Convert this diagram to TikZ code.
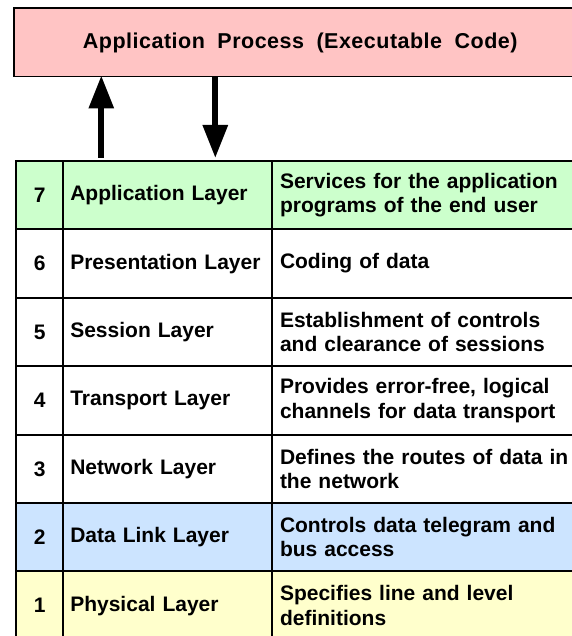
\documentclass[tikz,border=0pt]{standalone}
\usepackage{fontspec}
\setmainfont{Liberation Sans}
\usetikzlibrary{arrows.meta}

\definecolor{procpink}{RGB}{255,196,196}
\definecolor{layergreen}{RGB}{204,255,204}
\definecolor{layerblue}{RGB}{204,228,255}
\definecolor{layeryellow}{RGB}{255,255,204}

% heading font: slightly tracked, with wider gaps between words
\newcommand\procfont{\bfseries\fontsize{21.5}{24}\selectfont
  \addfontfeature{LetterSpace=2.3}\spaceskip=12.5pt\relax}

% one row of the layer table: number, top edge, name, description, fill
\newcommand\osirow[5]{%
  \node[numcell, fill=#5] (num#1) at (15,#2) {#1};
  \node[namecell, fill=#5] (name#1) at (62.3,#2) {#3};
  \node[desccell, fill=#5] (desc#1) at (271.3,#2) {#4};
}

\begin{document}
\begin{tikzpicture}[x=1pt, y=-1pt,
  cellfont/.style={font=\bfseries\fontsize{21}{24.5}\selectfont},
  frame/.style={draw=black, line width=2pt, inner sep=0pt, anchor=north west,
    minimum height=68.4pt, cellfont},
  numcell/.style={frame, minimum width=47.3pt, align=center},
  namecell/.style={frame, minimum width=209pt, text width=195pt, align=left},
  desccell/.style={frame, minimum width=316pt, text width=300.6pt, align=left},
  bigarrow/.style={line width=6pt, -{Triangle[length=33pt,width=24pt]}}
]
\useasboundingbox (0,0) rectangle (571,636);

% application process box
\node[draw=black, line width=1.5pt, fill=procpink, anchor=north west, inner sep=0pt,
  minimum width=573pt, minimum height=68.5pt, font=\procfont]
  (proc) at (13,7.5) {Application Process (Executable Code)};

% the seven layers
\osirow{7}{160}{Application Layer}{Services for the application\\programs of the end user}{layergreen}
\osirow{6}{228.4}{Presentation Layer}{Coding of data}{white}
\osirow{5}{296.8}{Session Layer}{Establishment of controls\\and clearance of sessions}{white}
\osirow{4}{365.2}{Transport Layer}{Provides error-free, logical\\channels for data transport}{white}
\osirow{3}{433.6}{Network Layer}{Defines the routes of data in\\the network}{white}
\osirow{2}{502}{Data Link Layer}{Controls data telegram and\\bus access}{layerblue}
\osirow{1}{570.4}{Physical Layer}{Specifies line and level\\definitions}{layeryellow}

% data flow between the process and the application layer
\coordinate (upx) at (101.3,0);
\coordinate (downx) at (215.3,0);
\draw[bigarrow, shorten <=2pt, shorten >=-2pt] (upx |- name7.north) -- (upx |- proc.south);
\draw[bigarrow, shorten >=2pt] (downx |- proc.south) -- (downx |- name7.north);
\end{tikzpicture}
\end{document}
